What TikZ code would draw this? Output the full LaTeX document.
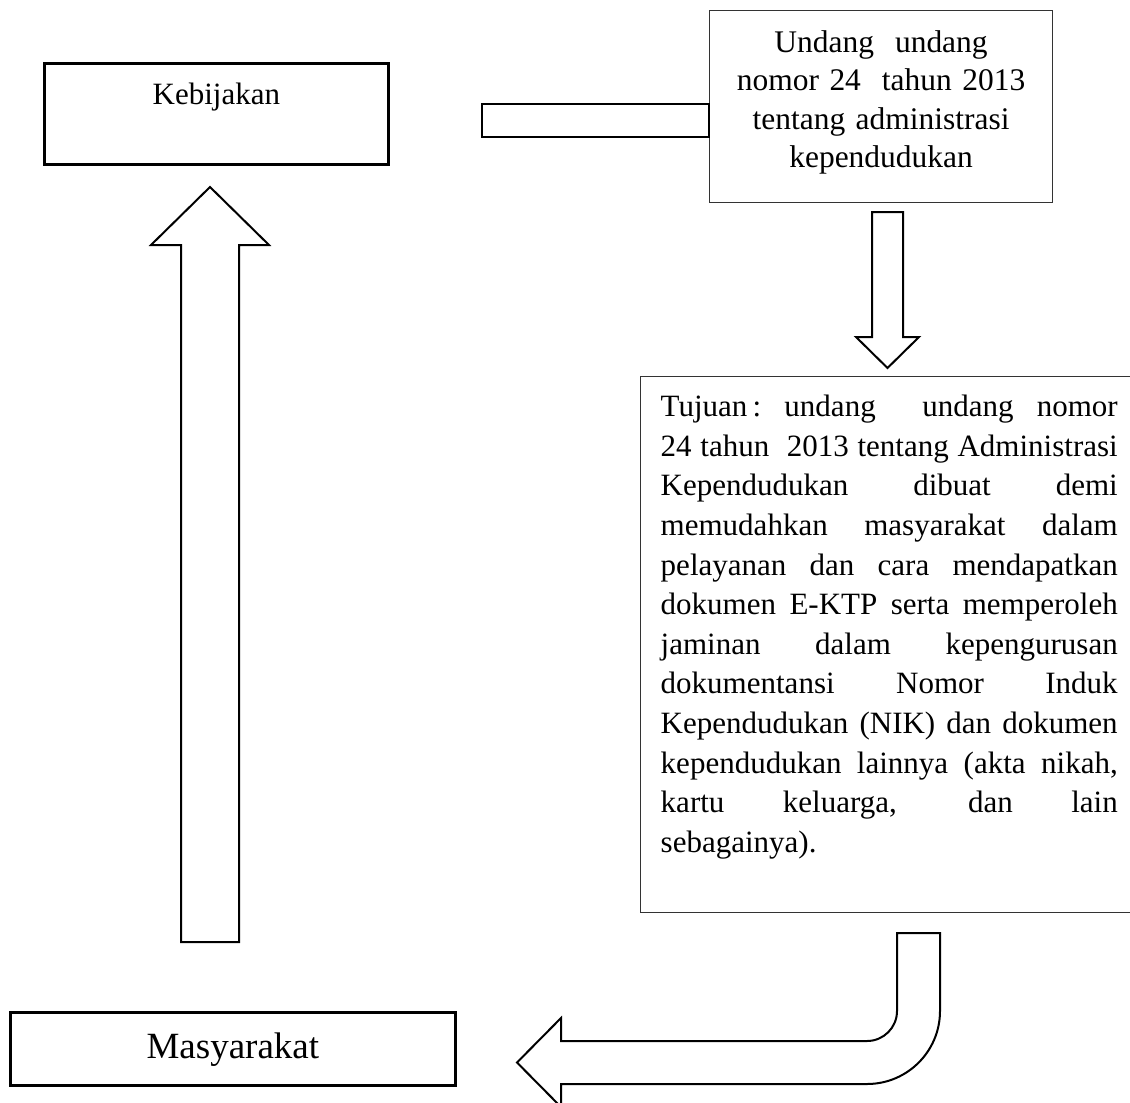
\documentclass[tikz,border=0pt]{standalone}
\usepackage{fontspec}
\setmainfont{Liberation Serif}
\usepackage{tikz}
\usetikzlibrary{positioning}

\newcommand{\fullline}[1]{{\spaceskip=0.25em plus 1fil\xspaceskip=0.25em plus 1fil
  \makebox[342.75pt][s]{#1}}\\}

\begin{document}
\begin{tikzpicture}[x=0.75pt,y=0.75pt,yscale=-1,xscale=1,
  heavybox/.style={draw, line width=2pt, inner sep=0pt, anchor=north west},
  lightbox/.style={draw=black!80, line width=1.1pt, inner ysep=0pt, inner xsep=15pt, anchor=north west},
  fatarrow/.style={draw, line width=1.5pt, line join=miter}]
\clip (0,0) rectangle (1130,1102);

% Text Node
\node [heavybox, minimum width=258pt, text height=30.75pt, text depth=45pt,
  font=\fontsize{23.25}{28}\selectfont] (kebijakan) at (43,62) {Kebijakan};
% Text Node
\node [lightbox, text width=227pt, align=center, text height=31.5pt, text depth=112.5pt,
  font=\fontsize{23.6}{28.7}\selectfont] (uu) at (709,10)
  {Undang\ \ undang\\ nomor 24\ \ tahun 2013\\ tentang administrasi\\ kependudukan};
% Text Node
\node [lightbox, text width=342.75pt, align=left, text height=30pt, text depth=372pt,
  font=\fontsize{23.25}{29.7}\selectfont] (tujuan) at (640,376)
  {\fullline{Tujuan\,: undang\ \ undang nomor}%
   \fullline{24 tahun\ \ 2013 tentang Administrasi}%
   \fullline{Kependudukan dibuat demi}%
   \fullline{memudahkan masyarakat dalam}%
   \fullline{pelayanan dan cara mendapatkan}%
   \fullline{dokumen E-KTP serta memperoleh}%
   \fullline{jaminan dalam kepengurusan}%
   \fullline{dokumentansi Nomor Induk}%
   \fullline{Kependudukan (NIK) dan dokumen}%
   \fullline{kependudukan lainnya (akta nikah,}%
   \fullline{kartu keluarga, dan lain}%
   sebagainya).};
% Text Node
\node [heavybox, minimum width=333.75pt, text height=34.5pt, text depth=20.25pt,
  font=\fontsize{27.75}{33}\selectfont] (masyarakat) at (9,1011) {Masyarakat};

% Bar from uu
\draw [line width=2pt] (482,104) rectangle (uu.west |- 0,137);

% Up Arrow
\draw [fatarrow] (181,942) -- (181,245) -- (151,245) -- (210,187) -- (269,245)
  -- (239,245) -- (239,942) -- cycle;

% Down Arrow
\draw [fatarrow] (872,212) -- (903,212) -- (903,337) -- (919,337) -- (887.5,368)
  -- (856,337) -- (872,337) -- cycle;

% Bent Arrow
\draw [fatarrow] (897,933) -- (940,933) -- (940,1011) arc (0:90:73) -- (561,1084)
  -- (561,1107) -- (517,1062.5) -- (561,1018) -- (561,1041) -- (867,1041)
  arc (90:0:30) -- cycle;

\end{tikzpicture}
\end{document}
